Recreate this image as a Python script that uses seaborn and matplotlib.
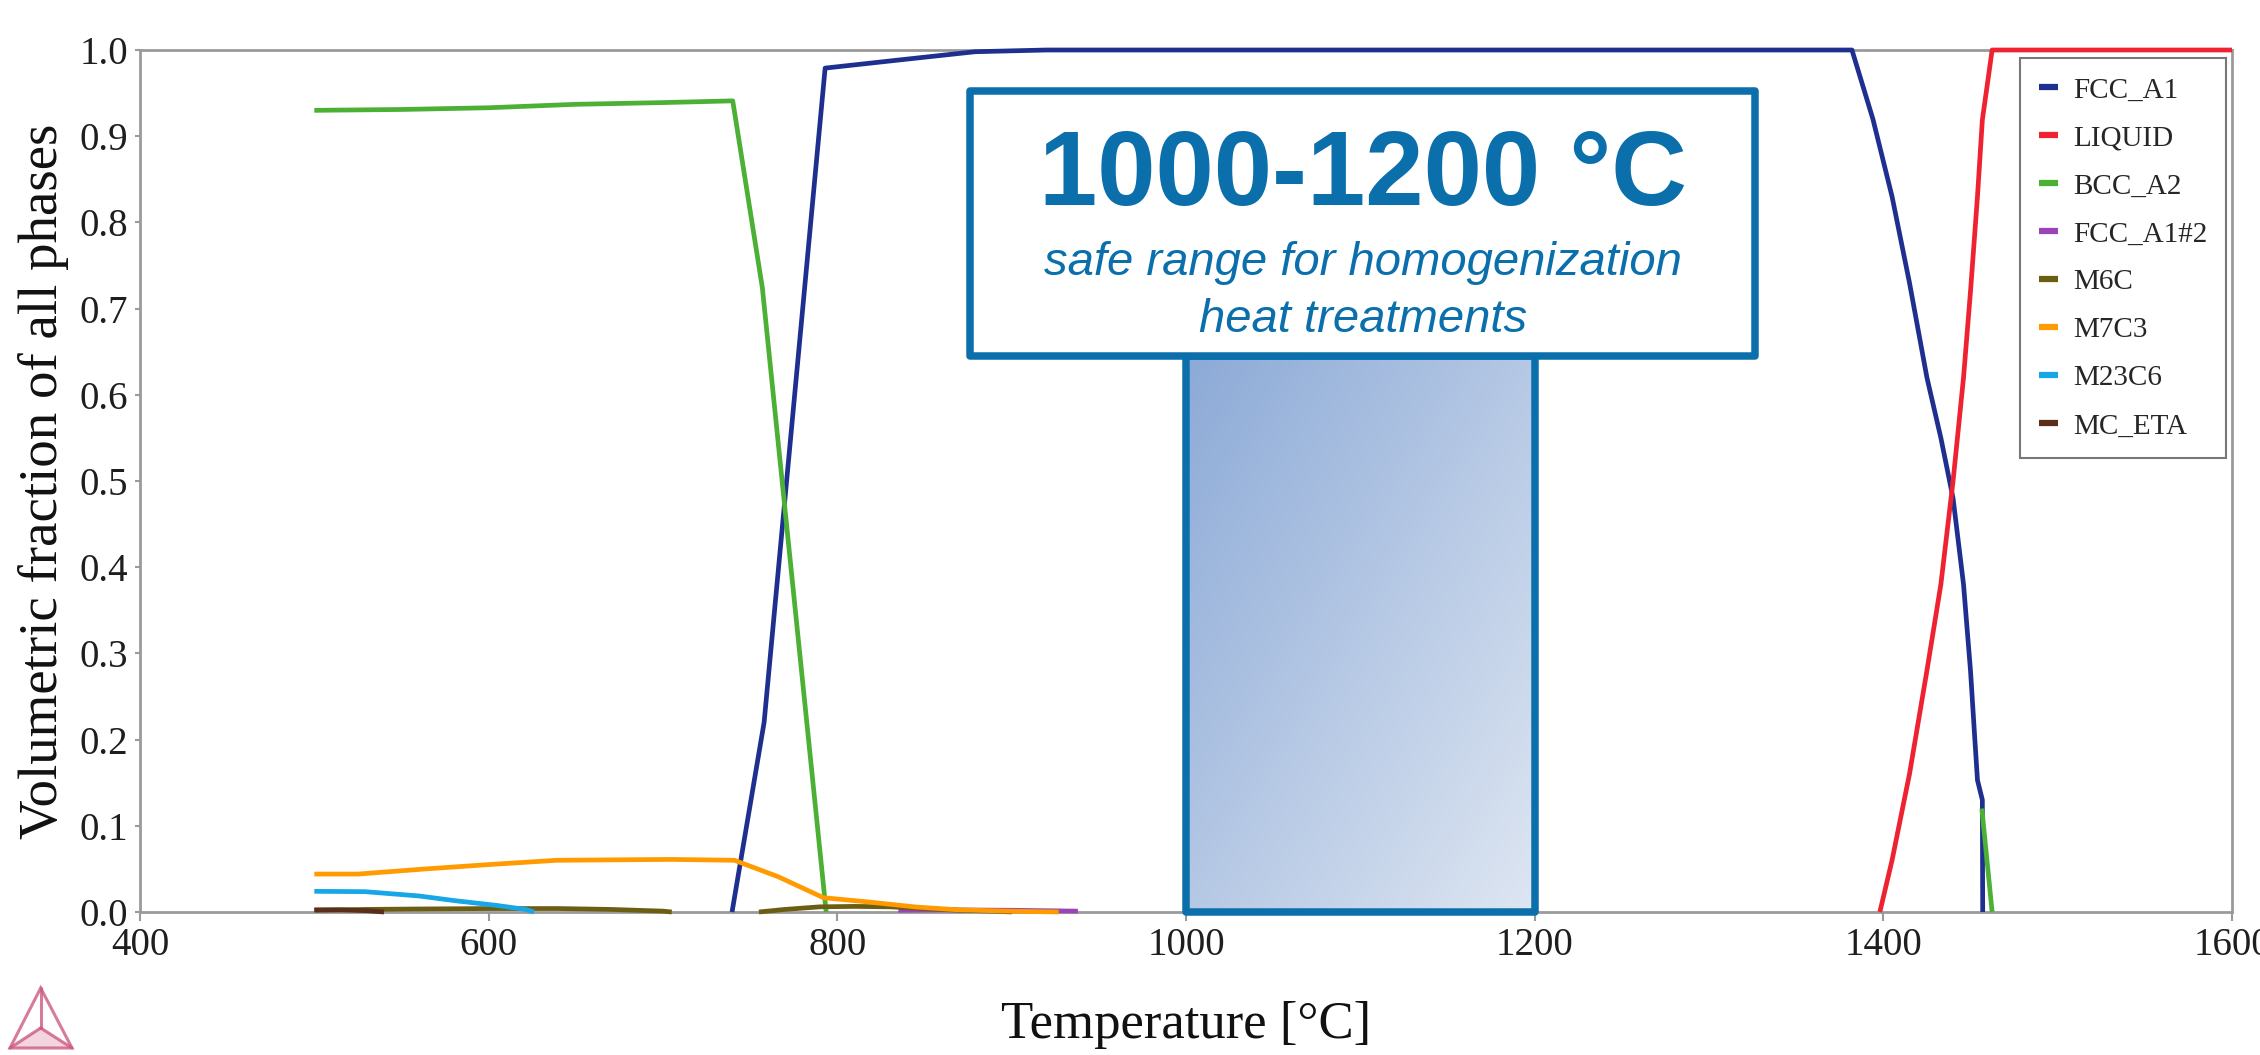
import numpy as np
import pandas as pd
import matplotlib
matplotlib.use("Agg")
import matplotlib.pyplot as plt
import seaborn as sns
from matplotlib.patches import Rectangle, Polygon
from matplotlib.lines import Line2D
from matplotlib.ticker import MultipleLocator, FormatStrFormatter

# ---- equilibrium phase fractions vs temperature (°C) ----
fcc_a1_T = [739.6, 758, 793, 838, 879, 920, 1382, 1394, 1405, 1415, 1425, 1433,
            1440, 1446, 1450, 1452.5, 1454, 1456.8, 1457.0]
fcc_a1_f = [0.0, 0.22, 0.979, 0.989, 0.998, 1.0, 1.0, 0.92, 0.83, 0.73, 0.62, 0.55,
            0.48, 0.38, 0.28, 0.20, 0.153, 0.13, 0.0]
liquid_T = [1398, 1405, 1415, 1425, 1433, 1440, 1446, 1450, 1454, 1456.8, 1460,
            1462.4, 1600]
liquid_f = [0.0, 0.06, 0.16, 0.28, 0.38, 0.50, 0.62, 0.72, 0.83, 0.919, 0.965,
            1.0, 1.0]
bcc_a2_T = [500, 550, 600, 650, 700, 740, 757, 793.6]
bcc_a2_f = [0.930, 0.931, 0.933, 0.937, 0.939, 0.941, 0.724, 0.0]
bcc_a2_hi_T = [1456.5, 1462.4]
bcc_a2_hi_f = [0.12, 0.0]
fcc_a1_2_T = [835, 860, 900, 938]
fcc_a1_2_f = [0.002, 0.0025, 0.002, 0.001]
m6c_T = [500, 530, 560, 600, 640, 670, 700, 705]
m6c_f = [0.002, 0.003, 0.0035, 0.004, 0.004, 0.003, 0.001, 0.0]
m6c_hi_T = [755, 770, 790, 810, 830, 850, 870, 890, 900]
m6c_hi_f = [0.0, 0.003, 0.006, 0.0065, 0.006, 0.004, 0.002, 0.001, 0.0]
m7c3_T = [500, 525, 564, 600, 639, 705, 741, 766, 792, 818, 845, 868, 897, 927]
m7c3_f = [0.044, 0.044, 0.050, 0.055, 0.060, 0.061, 0.060, 0.041, 0.0166, 0.0116,
          0.0058, 0.0027, 0.001, 0.0]
m23c6_T = [500, 529, 560, 582, 604, 621, 626]
m23c6_f = [0.024, 0.0236, 0.0186, 0.0128, 0.0078, 0.003, 0.0]
mc_eta_T = [500, 515, 530, 540]
mc_eta_f = [0.0025, 0.0025, 0.0015, 0.0]

phases = ["FCC_A1", "LIQUID", "BCC_A2", "FCC_A1#2", "M6C", "M7C3", "M23C6", "MC_ETA"]
phase_colors = ["#1f2f8f", "#ee2230", "#4bb033", "#9b44b8", "#6b5e12",
                "#ff9a00", "#17a6e6", "#5b2e1c"]

# safe homogenization window
range_lo, range_hi = 1000, 1200

segments = [
    ("FCC_A1", 0, fcc_a1_T, fcc_a1_f),
    ("LIQUID", 0, liquid_T, liquid_f),
    ("BCC_A2", 0, bcc_a2_T, bcc_a2_f),
    ("BCC_A2", 1, bcc_a2_hi_T, bcc_a2_hi_f),
    ("FCC_A1#2", 0, fcc_a1_2_T, fcc_a1_2_f),
    ("M6C", 0, m6c_T, m6c_f),
    ("M6C", 1, m6c_hi_T, m6c_hi_f),
    ("M7C3", 0, m7c3_T, m7c3_f),
    ("M23C6", 0, m23c6_T, m23c6_f),
    ("MC_ETA", 0, mc_eta_T, mc_eta_f),
]
rows = []
for name, seg, ts, fs in segments:
    for t, f in zip(ts, fs):
        rows.append({"T": t, "fraction": f, "phase": name, "seg": f"{name}-{seg}"})
df = pd.DataFrame(rows)

sns.set_theme(style="white")
plt.rcParams["font.family"] = ["Liberation Serif", "DejaVu Serif"]

W, H = 2260, 1055
fig = plt.figure(figsize=(W / 100, H / 100), dpi=100)
ax = fig.add_axes([140 / W, 1 - 912 / H, (2232 - 140) / W, (912 - 50) / H])

sns.lineplot(data=df, x="T", y="fraction", hue="phase", units="seg",
             estimator=None, sort=False, hue_order=phases,
             palette=dict(zip(phases, phase_colors)), linewidth=3.4, ax=ax)
for ln in ax.get_lines():
    ln.set_clip_on(False)
    ln.set_zorder(3)
    ln.set_solid_capstyle("butt")

ax.set_xlim(400, 1600)
ax.set_ylim(0, 1.0)
ax.xaxis.set_major_locator(MultipleLocator(200))
ax.yaxis.set_major_locator(MultipleLocator(0.1))
ax.yaxis.set_major_formatter(FormatStrFormatter("%.1f"))

spine_col = "#9a9a9a"
for s in ax.spines.values():
    s.set_visible(True)
    s.set_color(spine_col)
    s.set_linewidth(2.0)
ax.tick_params(axis="x", direction="out", length=6.5, width=1.5, color=spine_col,
               labelsize=28, labelcolor="#1e1e1e", pad=4, bottom=True)
ax.tick_params(axis="y", direction="out", length=3.6, width=1.5, color=spine_col,
               labelsize=28, labelcolor="#1e1e1e", pad=5, left=True)
ax.grid(False)

ax.set_xlabel("Temperature [°C]", fontsize=38, color="#111111")
ax.xaxis.set_label_coords(0.5, -0.103)
ax.set_ylabel("Volumetric fraction of all phases", fontsize=39.5, color="#111111")
ax.yaxis.set_label_coords(-0.034, 0.5)

# legend
leg = ax.legend(loc="upper right", bbox_to_anchor=(0.9971, 0.9907), borderaxespad=0,
                fontsize=21, frameon=True, fancybox=False, edgecolor="#555555",
                handlelength=0.65, handletextpad=0.5, labelspacing=0.74,
                borderpad=0.65, title=None)
leg.get_frame().set_linewidth(1.5)
for h in leg.get_lines():
    h.set_linewidth(4.5)
    h.set_solid_capstyle("butt")

# highlighted temperature window with diagonal gradient
box_blue = "#0a6fab"
win_top = 0.645
u = np.linspace(0, 1, 200)[None, :]
v = np.linspace(0, 1, 300)[:, None]
t = (u + v) / 2
c0 = np.array([140, 170, 215]) / 255
c1 = np.array([222, 230, 242]) / 255
grad = c0[None, None, :] * (1 - t[..., None]) + c1[None, None, :] * t[..., None]
ax.imshow(grad, extent=(range_lo, range_hi, 0, win_top), origin="upper",
          aspect="auto", zorder=4, interpolation="bilinear")
ax.add_patch(Rectangle((range_lo, 0), range_hi - range_lo, win_top, fill=False,
                       edgecolor=box_blue, linewidth=5.4, joinstyle="round",
                       zorder=5, clip_on=False))
ax.set_xlim(400, 1600)
ax.set_ylim(0, 1.0)

# callout box
ax.add_patch(Rectangle((876, win_top), 1326.4 - 876, 0.9525 - win_top,
                       facecolor="white", edgecolor=box_blue, linewidth=5.4,
                       joinstyle="round", zorder=6, clip_on=False))
cx = (range_lo + range_hi) / 2 + 1.6
ax.text(cx, 0.820, f"{range_lo}-{range_hi} °C", ha="center", va="baseline",
        fontsize=75.5, fontweight="bold", color=box_blue,
        family=["Liberation Sans", "DejaVu Sans"], zorder=7)
ax.text(cx, 0.739, "safe range for homogenization", ha="center", va="baseline",
        fontsize=34, fontstyle="italic", color=box_blue,
        family=["Liberation Sans", "DejaVu Sans"], zorder=7)
ax.text(cx, 0.673, "heat treatments", ha="center", va="baseline",
        fontsize=34, fontstyle="italic", color=box_blue,
        family=["Liberation Sans", "DejaVu Sans"], zorder=7)

# small tetrahedron logo, bottom left
def fpt(x, y):
    return (x / W, 1 - y / H)

apex, bl, br, mid = fpt(40.7, 988), fpt(10, 1048), fpt(72, 1048), fpt(40.7, 1028)
logo_col = "#cc5a7e"
fig.add_artist(Polygon([mid, bl, br], closed=True, facecolor=logo_col, alpha=0.25,
                       edgecolor="none", transform=fig.transFigure))
fig.add_artist(Polygon([apex, bl, br], closed=True, fill=False, edgecolor=logo_col,
                       linewidth=2.2, alpha=0.8, transform=fig.transFigure))
for p in (apex, bl, br):
    fig.add_artist(Line2D([mid[0], p[0]], [mid[1], p[1]], color=logo_col,
                          linewidth=2.2, alpha=0.8, transform=fig.transFigure))

fig.savefig("out.png", dpi=100, facecolor="white")
